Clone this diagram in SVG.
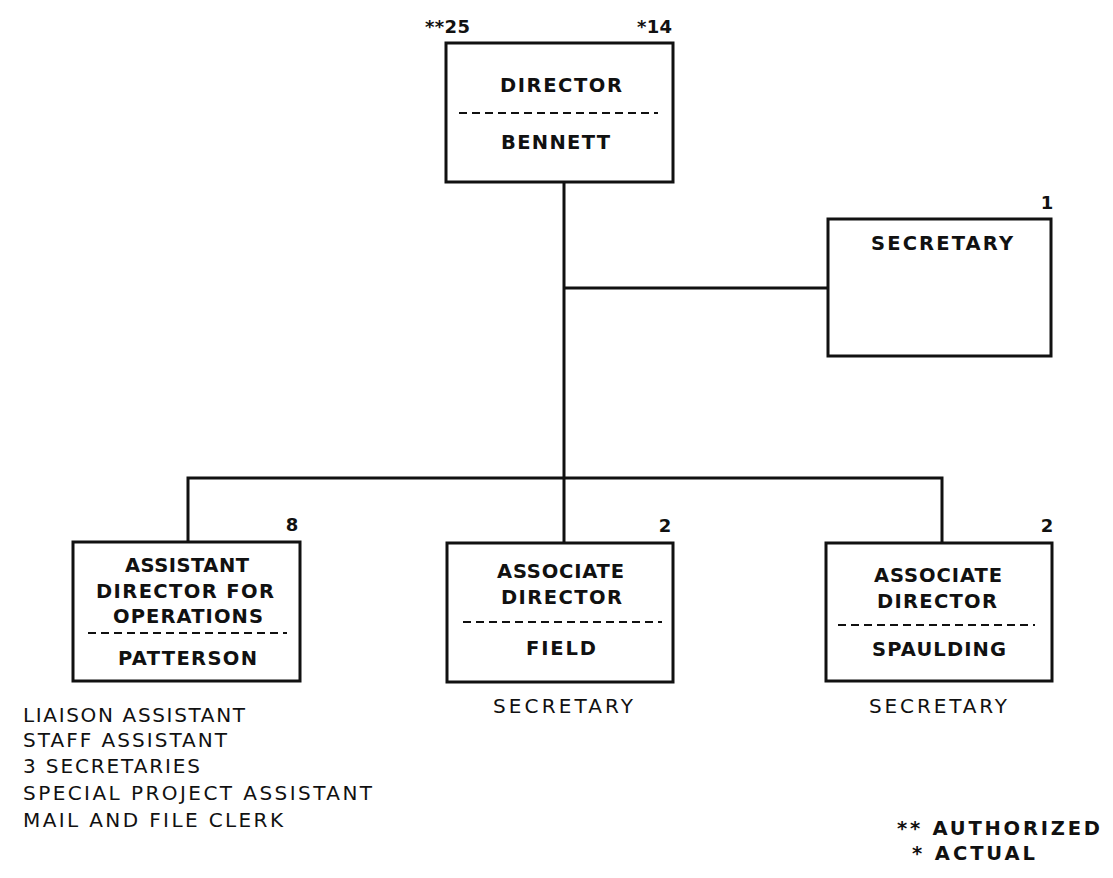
<svg xmlns="http://www.w3.org/2000/svg" width="1113" height="878" viewBox="0 0 1113 878">
  <style>
    .box { fill: #fff; stroke: #111; stroke-width: 3; }
    .wire { fill: none; stroke: #111; stroke-width: 3; }
    .dash { stroke: #111; stroke-width: 2; stroke-dasharray: 8 5; }
    .t { font-family: "DejaVu Sans", "Liberation Sans", sans-serif; font-size: 19.5px; font-weight: bold; fill: #111; text-anchor: middle; }
    .n { font-family: "DejaVu Sans", "Liberation Sans", sans-serif; font-size: 18px; font-weight: bold; fill: #111; }
    .l { font-family: "DejaVu Sans", "Liberation Sans", sans-serif; font-size: 20px; fill: #111; }
    .k { font-family: "DejaVu Sans", "Liberation Sans", sans-serif; font-size: 19.5px; font-weight: bold; fill: #111; }
  </style>
  <rect width="1113" height="878" fill="#fff"/>

  <!-- connectors -->
  <g id="connectors">
    <polyline class="wire" points="564,182 564,543"/>
    <polyline class="wire" points="564,288 828,288"/>
    <polyline class="wire" points="188,542 188,478 942,478 942,543"/>
  </g>

  <!-- director -->
  <g id="director">
    <rect class="box" x="446" y="43" width="227" height="139"/>
    <text class="n" x="425" y="33" textLength="45">**25</text>
    <text class="n" x="672" y="33" text-anchor="end" textLength="35">*14</text>
    <text class="t" x="561" y="92" textLength="122">DIRECTOR</text>
    <line class="dash" x1="459" y1="113" x2="658" y2="113"/>
    <text class="t" x="555.5" y="149" textLength="109">BENNETT</text>
  </g>

  <!-- secretary -->
  <g id="secretary">
    <rect class="box" x="828" y="219" width="223" height="137"/>
    <text class="n" x="1047" y="209" text-anchor="middle">1</text>
    <text class="t" x="942" y="250" textLength="142">SECRETARY</text>
  </g>

  <!-- assistant director for operations -->
  <g id="assistant-director">
    <rect class="box" x="73" y="542" width="227" height="139"/>
    <text class="n" x="292" y="531" text-anchor="middle">8</text>
    <text class="t" x="187" y="572" textLength="124">ASSISTANT</text>
    <text class="t" x="185" y="598" textLength="178">DIRECTOR FOR</text>
    <text class="t" x="188" y="623" textLength="150">OPERATIONS</text>
    <line class="dash" x1="88" y1="633" x2="287" y2="633"/>
    <text class="t" x="187.5" y="665" textLength="139">PATTERSON</text>
    <text class="l" x="23" y="722" textLength="222">LIAISON ASSISTANT</text>
    <text class="l" x="23" y="747" textLength="204">STAFF ASSISTANT</text>
    <text class="l" x="23" y="773" textLength="177">3 SECRETARIES</text>
    <text class="l" x="23" y="800" textLength="349">SPECIAL PROJECT ASSISTANT</text>
    <text class="l" x="23" y="827" textLength="260">MAIL AND FILE CLERK</text>
  </g>

  <!-- associate director field -->
  <g id="associate-field">
    <rect class="box" x="447" y="543" width="226" height="139"/>
    <text class="n" x="665" y="532" text-anchor="middle">2</text>
    <text class="t" x="560.5" y="578" textLength="127">ASSOCIATE</text>
    <text class="t" x="561.5" y="604" textLength="121">DIRECTOR</text>
    <line class="dash" x1="463" y1="622" x2="662" y2="622"/>
    <text class="t" x="561" y="655" textLength="70">FIELD</text>
    <text class="l" x="563" y="713" text-anchor="middle" textLength="140">SECRETARY</text>
  </g>

  <!-- associate director spaulding -->
  <g id="associate-spaulding">
    <rect class="box" x="826" y="543" width="226" height="138"/>
    <text class="n" x="1047" y="532" text-anchor="middle">2</text>
    <text class="t" x="938" y="582" textLength="128">ASSOCIATE</text>
    <text class="t" x="937" y="608" textLength="120">DIRECTOR</text>
    <line class="dash" x1="838" y1="625" x2="1035" y2="625"/>
    <text class="t" x="939" y="656" textLength="134">SPAULDING</text>
    <text class="l" x="938" y="713" text-anchor="middle" textLength="138">SECRETARY</text>
  </g>

  <!-- legend -->
  <g id="legend">
    <text class="k" x="897" y="835" textLength="203">** AUTHORIZED</text>
    <text class="k" x="912" y="860" textLength="123">* ACTUAL</text>
  </g>
</svg>
